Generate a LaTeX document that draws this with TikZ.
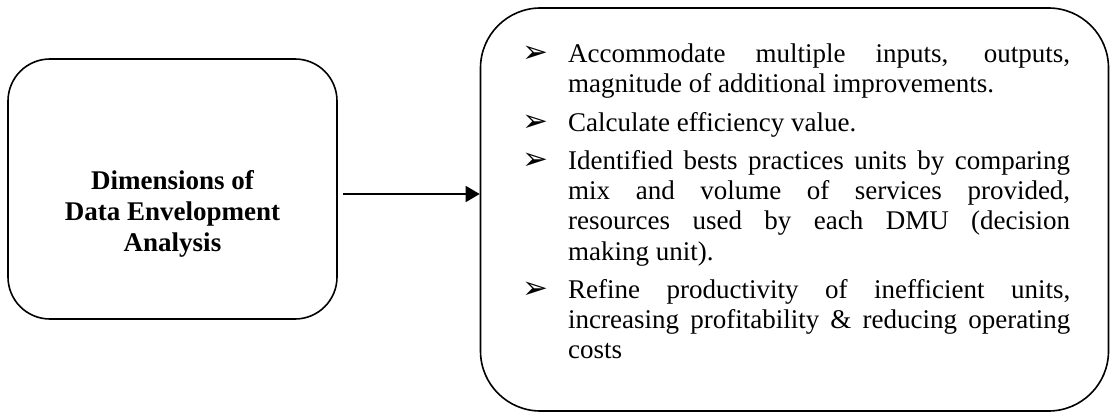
\documentclass[tikz,border=0pt]{standalone}
\usepackage{fontspec}
\setmainfont{Liberation Serif}
\newfontfamily\dejavu{DejaVu Sans}
\usetikzlibrary{arrows.meta}
\newcommand{\bulitem}[1]{\hangindent=47pt\hangafter=1\noindent\makebox[47pt][l]{\hspace{1pt}{\dejavu\fontsize{31}{31}\selectfont ➢}}#1\par}
\begin{document}
\begin{tikzpicture}[x=1pt,y=-1pt,
  boxstyle/.style={draw, line width=1.6pt, rounded corners=#1, inner sep=0pt},
  conn/.style={line width=1.6pt, -{Triangle[length=14pt,width=16pt]}},
  lefttext/.style={font=\bfseries\fontsize{27}{31}\selectfont, align=center, inner sep=0pt},
  righttext/.style={font=\fontsize{27}{30}\selectfont, inner sep=0pt, anchor=base west}
]
\useasboundingbox (0,0) rectangle (1110,412);
\node[boxstyle=42pt, minimum width=329pt, minimum height=260pt] (dea) at (172.5,189) {};
\node[lefttext] (deatext) at (172.5,214) {Dimensions of\\Data Envelopment\\Analysis};
\node[boxstyle=60pt, minimum width=628pt, minimum height=403pt] (cap) at (794.5,209.5) {};
\node[righttext] (items) at (521,63) {\parbox[t]{549pt}{%
\setlength{\parskip}{8.5pt}\setlength{\parindent}{0pt}%
\hyphenpenalty=10000 \exhyphenpenalty=10000 \tolerance=10000 \hbadness=10000
\bulitem{Accommodate multiple inputs, outputs,\linebreak magnitude of additional improvements.}
\bulitem{Calculate efficiency value.}
\bulitem{Identified bests practices units by comparing\linebreak mix and volume of services provided,\linebreak resources used by each DMU (decision\linebreak making unit).}
\bulitem{Refine productivity of inefficient units,\linebreak increasing profitability \& reducing operating\linebreak costs}
}};
\draw[conn] ([shift={(5,5)}]dea.east) coordinate (a0) -- (a0 -| cap.west);
\end{tikzpicture}
\end{document}
